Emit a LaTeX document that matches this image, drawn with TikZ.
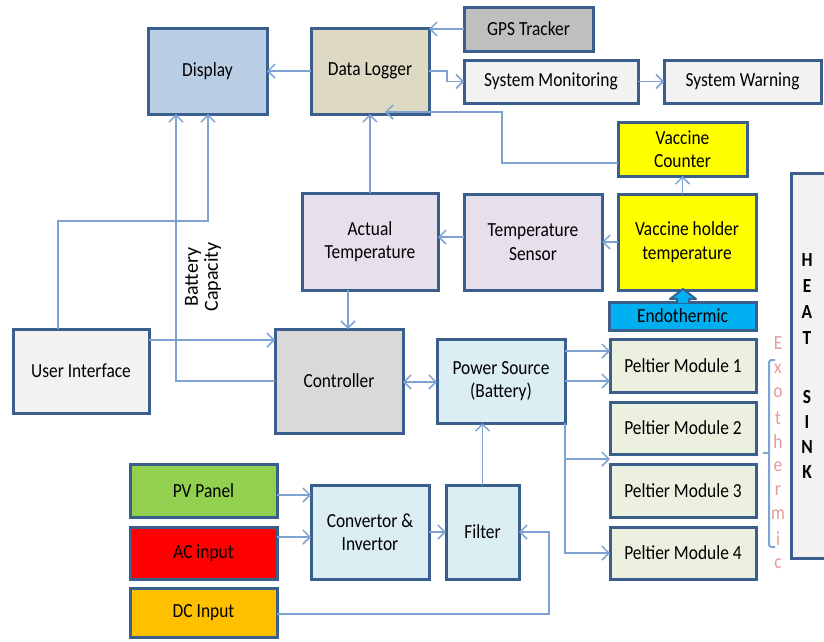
\documentclass[tikz,border=0pt]{standalone}
\usepackage{fontspec}
\setmainfont{Carlito}[FakeStretch=0.87]
\newfontfamily\plainf{Carlito}
\usetikzlibrary{arrows.meta,calc}
\definecolor{bord}{HTML}{3B5F8C}
\definecolor{conn}{HTML}{7EA3D3}
\definecolor{dispc}{HTML}{B9CDE5}
\definecolor{logc}{HTML}{DDD9C3}
\definecolor{gpsc}{HTML}{BFBFBF}
\definecolor{lightc}{HTML}{F2F2F2}
\definecolor{yel}{HTML}{FFFF00}
\definecolor{lav}{HTML}{E6E0EC}
\definecolor{endoc}{HTML}{00B0F0}
\definecolor{ctrlc}{HTML}{D9D9D9}
\definecolor{powc}{HTML}{DBEEF4}
\definecolor{pelc}{HTML}{EBF1DE}
\definecolor{pvc}{HTML}{92D050}
\definecolor{acc}{HTML}{FF0000}
\definecolor{dcc}{HTML}{FFC000}
\definecolor{exoc}{HTML}{E59A9A}
\tikzset{
  blk/.style={draw=bord, line width=3pt, inner sep=0pt, outer sep=0pt, align=center,
    font=\fontsize{20}{23.5}\selectfont, text=black},
  con/.style={draw=conn, line width=1.5pt, -{Straight Barb[length=7pt,width=14pt]}},
  dcon/.style={draw=conn, line width=1.5pt, {Straight Barb[length=7pt,width=14pt]}-{Straight Barb[length=7pt,width=14pt]}},
  lbl/.style={font=\fontsize{20}{22}\selectfont, inner sep=0pt}
}
\newcommand\mybox[7]{\node[blk, fill=#6, minimum width={#4-#2}, minimum height={#5-#3}] (#1) at ({(#2+#4)/2},{(#3+#5)/2}) {#7};}
\begin{document}
\begin{tikzpicture}[x=1pt,y=-1pt]
\clip (0,0) rectangle (824,641);
\fill[white] (0,0) rectangle (824,641);
% boxes
\mybox{display}{148}{28}{267}{114}{dispc}{Display}
\mybox{logger}{311}{28}{429}{114}{logc}{Data Logger}
\mybox{gps}{464}{7}{593}{51}{gpsc}{GPS Tracker}
\mybox{mon}{464}{60}{638}{103}{lightc}{System Monitoring}
\mybox{warn}{664}{60}{821}{103}{lightc}{System Warning}
\mybox{vcount}{618}{122}{747}{176}{yel}{Vaccine\\Counter}
\mybox{actual}{302}{193}{438}{290}{lav}{Actual\\Temperature}
\mybox{sensor}{464}{194}{602}{290}{lav}{Temperature\\Sensor}
\mybox{holder}{618}{194}{756}{290}{yel}{Vaccine holder\\temperature}
\mybox{endo}{609}{302}{756}{330}{endoc}{Endothermic}
\mybox{ui}{13}{329}{149}{413}{lightc}{User Interface}
\mybox{ctrl}{275}{329}{403}{433}{ctrlc}{Controller}
\mybox{power}{437}{339}{565}{423}{powc}{Power Source\\(Battery)}
\mybox{p1}{610}{339}{756}{392}{pelc}{Peltier Module 1}
\mybox{p2}{610}{402}{756}{454}{pelc}{Peltier Module 2}
\mybox{p3}{610}{464}{756}{517}{pelc}{Peltier Module 3}
\mybox{p4}{610}{527}{756}{579}{pelc}{Peltier Module 4}
\mybox{conv}{311}{485}{429}{579}{powc}{Convertor \&\\Invertor}
\mybox{filter}{446}{485}{519}{579}{powc}{Filter}
\mybox{pv}{130}{464}{277}{517}{pvc}{PV Panel}
\mybox{ac}{130}{527}{277}{579}{acc}{AC input}
\mybox{dc}{130}{588}{277}{637}{dcc}{DC Input}
\mybox{heat}{791}{173}{834}{558}{lightc}{}
% block arrow endothermic -> holder
\filldraw[fill=endoc, draw=bord, line width=2pt, line join=round]
  (677,303) -- (677,299) -- (670,299) -- (683,289) -- (696,299) -- (689,299) -- (689,303);
% connectors
\draw[con] (logger.west) -- (display.east);
\draw[con] (gps.west) -- (gps.west -| logger.east);
\draw[con] (logger.east) -- ++(18,0) |- (mon.west);
\draw[con] (mon.east) -- (warn.west);
\coordinate (vcend) at (385,112);
\draw[con] (vcount.west |- 0,163) -| (502,112) -- (vcend);
\draw[con] (actual.north) -- (logger.south);
\draw[con] (vcount.south |- holder.north) -- (vcount.south);
\draw[con] (holder.west) -- (sensor.east);
\draw[con] (sensor.west |- 0,237) -- (actual.east |- 0,237);
\draw[con] (actual.south -| 348,0) -- (ctrl.north -| 348,0);
\draw[con] (ui.east |- 0,340) -- (ctrl.west |- 0,340);
\draw[con] (ui.north -| 58,0) |- (208,221) -- (display.south -| 208,0);
\draw[con] (ctrl.west |- 0,381) -| (display.south -| 176,0);
\draw[dcon] (ctrl.east |- 0,382) -- (power.west |- 0,382);
\draw[con] (power.east |- 0,351) -- (p1.west |- 0,351);
\draw[con] (power.east |- 0,381) -- (p1.west |- 0,381);
\draw[con] (power.south east) |- (p4.west);
\draw[con] (power.south east |- 0,459) -- (p2.west |- 0,459);
\draw[con] (filter.north) -- (filter.north |- power.south);
\draw[con] (conv.east) -- (filter.west);
\draw[con] (pv.east |- 0,495) -- (conv.west |- 0,495);
\draw[con] (ac.east |- 0,537) -- (conv.west |- 0,537);
\draw[con] (dc.east |- 0,614) -| (549,532) -- (filter.east);
% labels
\node[rotate=90, align=center, font=\plainf\fontsize{20}{20}\selectfont, inner sep=0pt] (batt) at (203,277) {Battery\\Capacity};
\foreach \l/\y in {E/343,x/369,o/393,t/418,h/442,e/467,r/491,m/515,i/539,c/564}
  \node[lbl, text=exoc] at (778,\y) {\l};
\draw[conn, line width=2pt, rounded corners=2.5pt] (775,360) -- (769,360) -- (769,547) -- (775,547);
\draw[conn, line width=1.5pt] (769,453) -- (763,453);
\foreach \l/\y in {H/260,E/286,A/312,T/338,S/397,I/422,N/447,K/472}
  \node[lbl, font=\fontsize{20}{22}\selectfont\bfseries] at (807,\y) {\l};
\end{tikzpicture}
\end{document}
